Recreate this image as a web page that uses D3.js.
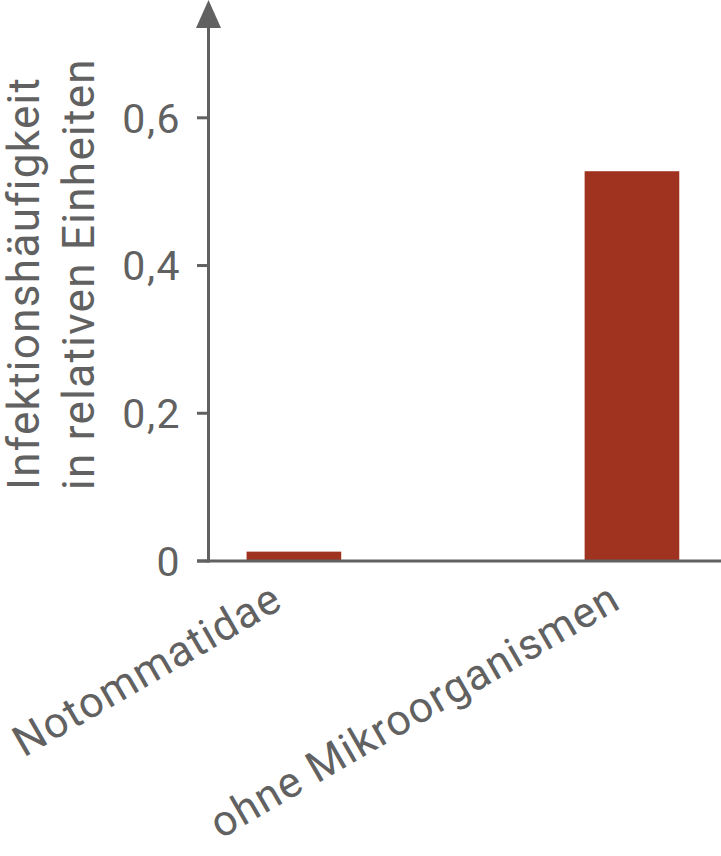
<!DOCTYPE html>
<html><head><meta charset="utf-8">
<script src="https://cdn.jsdelivr.net/npm/d3@7"></script>
<style>body{margin:0;background:#fff}svg{display:block}text{font-family:Roboto,sans-serif}</style>
</head><body>
<svg id="c" width="721" height="856"></svg>
<script>
const categories = ["Notommatidae", "ohne Mikroorganismen"];
const values = [0.012, 0.527];
const tickValues = [0, 0.2, 0.4, 0.6];
const tickLabels = ["0", "0,2", "0,4", "0,6"];
const titleLines = ["Infektionshäufigkeit", "in relativen Einheiten"];

const grey = "#616161", barColor = "#a03220";
const svg = d3.select("#c");
const x0 = 208.5, yBase = 561;
const y = d3.scaleLinear().domain([0, 0.6]).range([560.5, 117.3]);
const x = d3.scaleBand().domain(categories).range([x0, 721]).paddingInner(0.72).paddingOuter(0.118).align(0.477);

// bars
svg.selectAll("rect.bar").data(values).join("rect")
  .attr("x", (d, i) => x(categories[i]))
  .attr("width", x.bandwidth())
  .attr("y", d => y(d))
  .attr("height", d => y(0) - y(d))
  .attr("fill", barColor);

// y axis
const yAxis = d3.axisLeft(y).tickValues(tickValues).tickFormat((d, i) => tickLabels[i]).tickSize(11.5).tickPadding(16);
const gy = svg.append("g").attr("transform", `translate(${x0},0)`).call(yAxis);
gy.select(".domain").remove();
gy.selectAll(".tick line").attr("stroke", grey).attr("stroke-width", 3);
gy.selectAll(".tick text").attr("fill", grey).attr("font-size", 41).attr("font-family", "Roboto")
  .attr("letter-spacing", 1.5).attr("dy", "0.36em");
svg.append("line").attr("x1", x0).attr("x2", x0).attr("y1", yBase + 1.5).attr("y2", 20)
  .attr("stroke", grey).attr("stroke-width", 3);
svg.append("path").attr("d", `M${x0},0 L${x0 + 12.5},28 L${x0 - 12.5},28 Z`).attr("fill", grey);

// x axis
svg.append("line").attr("x1", 197).attr("x2", 721).attr("y1", yBase).attr("y2", yBase)
  .attr("stroke", grey).attr("stroke-width", 3);
svg.selectAll("text.cat").data(categories).join("text").attr("class", "cat")
  .attr("transform", d => `translate(${x(d) + x.bandwidth() / 2 - 9},607) rotate(-30)`)
  .attr("text-anchor", "end").attr("fill", grey).attr("font-size", 43).attr("letter-spacing", 1.2)
  .text(d => d);

// title
const t = svg.append("text").attr("transform", "translate(0,490) rotate(-90)")
  .attr("fill", grey).attr("font-size", 44).attr("letter-spacing", 1.3).attr("text-anchor", "start");
titleLines.forEach((l, i) => t.append("tspan").attr("x", 0).attr("y", 39 + i * 55).text(l));
</script>
</body></html>
